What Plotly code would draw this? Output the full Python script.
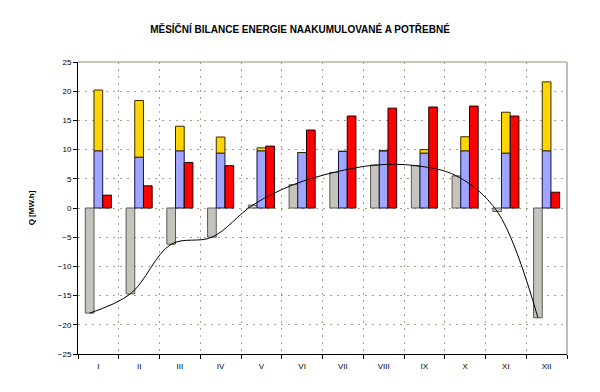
import plotly.graph_objects as go

months = ["I", "II", "III", "IV", "V", "VI", "VII", "VIII", "IX", "X", "XI", "XII"]
balance = [-18.0, -14.7, -6.2, -5.0, 0.5, 4.0, 6.1, 7.35, 7.25, 5.5, -0.6, -18.8]
accumulated = [9.8, 8.7, 9.8, 9.4, 9.8, 9.5, 9.7, 9.8, 9.4, 9.8, 9.4, 9.8]
surplus = [10.4, 9.7, 4.2, 2.75, 0.5, 0.0, 0.0, 0.0, 0.6, 2.4, 7.0, 11.8]
demand = [2.2, 3.8, 7.8, 7.25, 10.6, 13.35, 15.75, 17.1, 17.3, 17.45, 15.75, 2.7]

W = 0.213
fig = go.Figure()
fig.add_trace(go.Bar(x=months, y=balance, width=W, offset=-0.32,
                     marker=dict(color="#C4C4BC", line=dict(color="#5A5A5A", width=1))))
fig.add_trace(go.Bar(x=months, y=accumulated, width=W, offset=-0.107,
                     marker=dict(color="#A0A6FF", line=dict(color="#10104A", width=1))))
fig.add_trace(go.Bar(x=months, y=surplus, base=accumulated, width=W, offset=-0.107,
                     marker=dict(color="#FFD500", line=dict(color="#3A2A00", width=1))))
fig.add_trace(go.Bar(x=months, y=demand, width=W, offset=0.107,
                     marker=dict(color="#FF0000", line=dict(color="#200000", width=1))))

xline = [i - 0.213 for i in range(len(months))]
fig.add_trace(go.Scatter(x=xline, y=balance, mode="lines", xaxis="x2",
                         line=dict(color="black", width=1, shape="spline", smoothing=1.0)))

grid_c = "#A6A28C"
fig.update_layout(
    width=600, height=392,
    margin=dict(l=78, r=33, t=62, b=38),
    paper_bgcolor="white", plot_bgcolor="white",
    barmode="overlay", showlegend=False,
    font=dict(family="Liberation Sans, Arial, sans-serif", size=8, color="black"),
    title=dict(text="<b>MĚSÍČNÍ BILANCE ENERGIE NAAKUMULOVANÉ A POTŘEBNÉ</b>",
               x=0.5, xanchor="center", y=0.925, yanchor="middle",
               font=dict(size=10, color="black")),
    xaxis=dict(type="category", range=[-0.5, 11.5], tickson="boundaries",
               showgrid=True, gridcolor=grid_c, griddash="2px,5px", gridwidth=1,
               showline=True, linecolor="black", linewidth=1,
               ticks="outside", ticklen=4, tickcolor="black",
               ticklabelstandoff=4,
               tickfont=dict(size=8), zeroline=False),
    xaxis2=dict(overlaying="x", range=[-0.5, 11.5], visible=False),
    yaxis=dict(range=[-25, 25], dtick=5, showgrid=True, gridcolor=grid_c,
               griddash="2px,5px", gridwidth=1, zeroline=False,
               showline=True, linecolor="black", linewidth=1,
               ticks="outside", ticklen=4, tickcolor="black",
               tickfont=dict(size=8),
               title=dict(text="<b>Q [MW.h]</b>", font=dict(size=8), standoff=22)),
    shapes=[
        dict(type="line", xref="paper", yref="paper", x0=0, x1=1, y0=1, y1=1,
             line=dict(color="#958F6C", width=1)),
        dict(type="line", xref="paper", yref="paper", x0=1, x1=1, y0=0, y1=1,
             line=dict(color="#BDBDBD", width=2)),
    ],
)
fig.write_html("out.html", config={"displayModeBar": False},
               post_script="document.body.style.margin='0';")
